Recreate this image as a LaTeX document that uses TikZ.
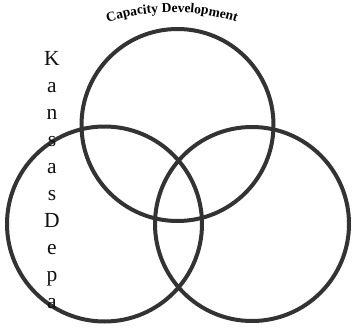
\documentclass[tikz,border=0pt]{standalone}
\usepackage{fontspec}
\setmainfont{Liberation Serif}
\usepackage{xcolor}
\usetikzlibrary{decorations.text}
\definecolor{vnring}{HTML}{333333}
\definecolor{vnink}{HTML}{111111}
\tikzset{
  ring/.style={draw=vnring,line width=4pt},
  vletter/.style={anchor=base,inner sep=0pt,text=vnink,
    font=\fontsize{21.5}{26}\selectfont}
}
\begin{document}
\begin{tikzpicture}[x=1pt,y=1pt,line cap=round,line join=round]
\useasboundingbox (0,0) rectangle (353,330);
\fill[white] (0,0) rectangle (353,330);

% three rings
\draw[ring] (177.5,205) circle (96);
\draw[ring] (104.5,106) circle (97.5);
\draw[ring] (252,106) circle (97);

% arched title
\path[decorate,decoration={text along path,text align=center,
    text={|\bfseries\fontsize{13.5}{15}\selectfont|Capacity Development}}]
  (108.2,308) arc[start angle=107.7,end angle=72.3,radius=210];

% vertical word
\foreach \ch [count=\i from 0] in {K,a,n,s,a,s,D,e,p,a}
  \node[vletter] (kd\i) at (52,265-27*\i) {\ch};

\end{tikzpicture}
\end{document}
